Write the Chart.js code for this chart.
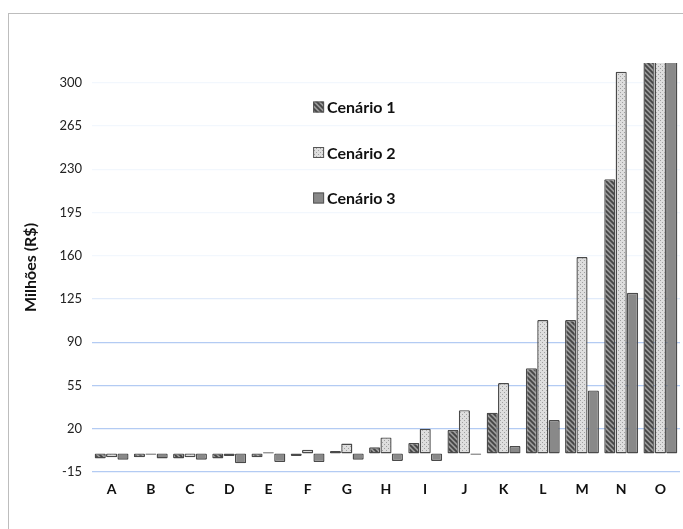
<!DOCTYPE html>
<html>
<head>
<meta charset="utf-8">
<script src="https://cdn.jsdelivr.net/npm/chart.js@4.4.1/dist/chart.umd.min.js"></script>
<style>
  body { margin:0; background:#fff; }
  #wrap { position:relative; width:683px; height:529px; overflow:hidden; }
  #frame { position:absolute; left:8px; top:13px; width:700px; height:540px;
           border-top:1.5px solid #bdbdbd; border-left:1.5px solid #bdbdbd; }
  canvas { position:absolute; left:0; top:0; }
</style>
</head>
<body>
<div id="wrap">
  <div id="frame"></div>
  <canvas id="grafico" width="683" height="529"></canvas>
</div>
<script>
const categories = ['A','B','C','D','E','F','G','H','I','J','K','L','M','N','O'];
const cenario1 = [-4, -3, -4, -4, -3, -2, 2, 5, 8.5, 19, 33, 69, 108, 222, 420];
const cenario2 = [-3, -1, -3, -2, 1, 3, 8, 13, 20, 35, 57, 108, 159, 309, 600];
const cenario3 = [-5, -4, -5, -8, -7, -7, -5, -6, -6, -1, 6, 27, 51, 130, 330];
const yTicks = [-15, 20, 55, 90, 125, 160, 195, 230, 265, 300];
const seriesNames = ['Cenário 1', 'Cenário 2', 'Cenário 3'];

function make_pattern(kind){
    let c = document.createElement('canvas');
    let size = kind === 'hatch' ? 5 : 4;
    c.width = size; c.height = size;
    let g = c.getContext('2d');
    if(kind === 'hatch'){
        g.fillStyle = '#9a9a9a';
        g.fillRect(0,0,size,size);
        g.strokeStyle = '#444444';
        g.lineWidth = 1.8;
        g.beginPath();
        g.moveTo(-1,-1); g.lineTo(size+1,size+1);
        g.moveTo(-1,size-1); g.lineTo(1,size+1);
        g.moveTo(size-1,-1); g.lineTo(size+1,1);
        g.stroke();
    }
    else if(kind === 'dots'){
        g.fillStyle = '#dedede';
        g.fillRect(0,0,size,size);
        g.fillStyle = '#a0a0a0';
        g.fillRect(0,0,1,1);
        g.fillRect(2,2,1,1);
    }
    else{
        g.fillStyle = '#898989';
        g.fillRect(0,0,size,size);
    }
    return g.createPattern(c, 'repeat');
}

let fills = [make_pattern('hatch'), make_pattern('dots'), make_pattern('solid')];

// legend drawn inside the plot, stacked vertically
const innerLegend = {
    id: 'innerLegend',
    afterDraw(chart){
        let ctx = chart.ctx;
        let area = chart.chartArea;
        let x = area.left + 0.376 * (area.right - area.left);
        ctx.save();
        ctx.font = 'bold 16px Lato, sans-serif';
        ctx.textBaseline = 'middle';
        seriesNames.forEach((name, i)=>{
            let y = area.top + 44 + i * 45.5;
            ctx.fillStyle = fills[i];
            ctx.fillRect(x, y - 5.5, 11, 11);
            ctx.strokeStyle = '#555';
            ctx.lineWidth = 1;
            ctx.strokeRect(x + 0.5, y - 5, 10, 10);
            ctx.fillStyle = '#111';
            ctx.fillText(name, x + 14, y + 1);
        });
        ctx.restore();
    }
};

function grid_colour(c){
    let v = c.tick ? c.tick.value : 0;
    if(v <= 90) return 'rgba(160,190,240,0.8)';
    if(v <= 125) return 'rgba(170,198,240,0.35)';
    return 'rgba(170,198,240,0.15)';
}

let chart = document.querySelector('#grafico');
new Chart(chart, {
    type: 'bar',
    data: {
        labels: categories,
        datasets: [cenario1, cenario2, cenario3].map((vals, i)=>({
            label: seriesNames[i],
            data: vals,
            backgroundColor: fills[i],
            borderColor: '#4a4a4a',
            borderWidth: 1.4,
            borderSkipped: false,
            borderRadius: 1,
            categoryPercentage: 0.87,
            barPercentage: 0.98
        }))
    },
    options: {
        responsive: false,
        animation: false,
        events: [],
        layout: { padding: { top: 63, right: 3, left: 0, bottom: 0 } },
        plugins: {
            legend: { display: false },
            tooltip: { enabled: false }
        },
        scales: {
            x: {
                grid: { display: false },
                border: { display: false },
                ticks: {
                    color: '#111',
                    font: { family: 'Lato, sans-serif', size: 14, weight: 'bold' },
                    padding: 1
                },
                afterFit(axis){ axis.height = 57; }
            },
            y: {
                min: -15,
                max: 316,
                border: { display: false },
                grid: { color: grid_colour, lineWidth: 1.3, drawTicks: false },
                afterBuildTicks(axis){
                    axis.ticks = yTicks.map(v=>({ value: v }));
                },
                ticks: {
                    color: '#222',
                    font: { family: 'Lato, sans-serif', size: 13 },
                    padding: 10
                },
                title: {
                    display: true,
                    text: 'Milhões (R$)',
                    color: '#111',
                    font: { family: 'Lato, sans-serif', size: 16, weight: 'bold' },
                    padding: { top: 21, bottom: 0 }
                },
                afterFit(axis){ axis.width = 92; }
            }
        }
    },
    plugins: [innerLegend]
});
</script>
</body>
</html>
